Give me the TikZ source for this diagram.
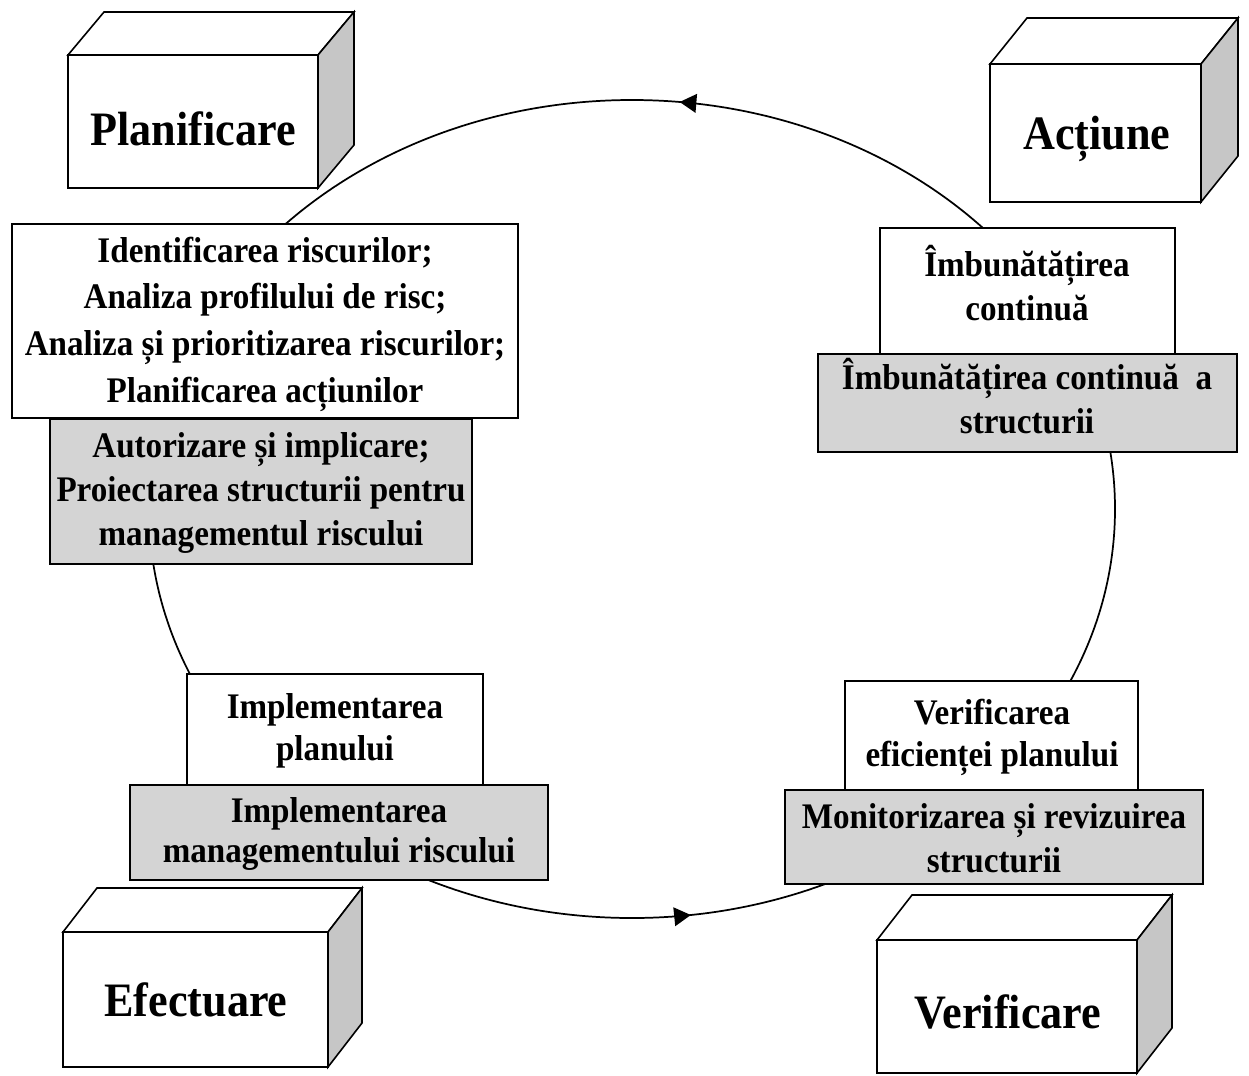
\documentclass[tikz,border=0pt]{standalone}
\usepackage{fontspec}
\setmainfont{Liberation Serif}[FakeStretch=0.92]
\usetikzlibrary{arrows.meta,decorations.markings}

\tikzset{
  whitebox/.style={draw=black, fill=white, line width=1.4pt},
  graybox/.style={draw=black, fill={rgb,255:red,212;green,212;blue,212}, line width=1.8pt},
  topface/.style={draw=black, fill=white, line width=1.2pt},
  sideface/.style={draw=black, fill={rgb,255:red,198;green,198;blue,198}, line width=1.2pt},
  titletext/.style={font=\fontsize{36}{40}\selectfont\bfseries, inner sep=0pt},
  listtext/.style={font=\fontsize{27}{33}\selectfont\bfseries, align=center, inner sep=0pt},
  cycletip/.style={decoration={markings,
      mark=at position 0.229 with {\arrowreversed{Triangle[length=12.5pt,width=14pt]}},
      mark=at position 0.767 with {\arrowreversed{Triangle[length=12.5pt,width=14pt]}}},
    postaction={decorate}},
}

\begin{document}
\begin{tikzpicture}[x=0.75pt,y=0.75pt,yscale=-1,xscale=1]
\useasboundingbox (0,0) rectangle (1249,1075);

%Cycle
\draw [line width=1.3pt, cycletip] (632,509) ellipse [x radius=483, y radius=409];

%Planificare: text boxes
\draw [whitebox] (12,224) rectangle (518,418);
\draw [graybox] (50,419) rectangle (472,564);
\node [listtext, font=\fontsize{27}{35}\selectfont\bfseries] (planList) at (265,324) {Identificarea riscurilor;\\Analiza profilului de risc;\\Analiza și prioritizarea riscurilor;\\Planificarea acțiunilor};
\node [listtext] (planStruct) at (261,493) {Autorizare și implicare;\\Proiectarea structurii pentru\\managementul riscului};

%Actiune: text boxes
\draw [whitebox] (880,228) rectangle (1175,354);
\draw [graybox] (818,354) rectangle (1237,452);
\node [listtext] (actList) at (1027,283) {Îmbunătățirea\\continuă};
\node [listtext] (actStruct) at (1027,396) {Îmbunătățirea continuă~ a\\structurii};

%Efectuare: text boxes
\draw [whitebox] (187,674) rectangle (483,785);
\draw [graybox] (130,785) rectangle (548,880);
\node [listtext, font=\fontsize{27}{31.5}\selectfont\bfseries] (efList) at (335,731) {Implementarea\\planului};
\node [listtext, font=\fontsize{27}{30.5}\selectfont\bfseries] (efStruct) at (339,834) {Implementarea\\managementului riscului};

%Verificare: text boxes
\draw [whitebox] (845,681) rectangle (1138,790);
\draw [graybox] (785,790) rectangle (1203,884);
\node [listtext, font=\fontsize{27}{31.5}\selectfont\bfseries] (verList) at (992,737) {Verificarea\\eficienței planului};
\node [listtext] (verStruct) at (994,838) {Monitorizarea și revizuirea\\structurii};

%Box: Planificare
\draw [topface] (68,55) -- (104,12) -- (354,12) -- (318,55) -- cycle;
\draw [sideface] (318,55) -- (354,12) -- (354,145) -- (318,188) -- cycle;
\draw [whitebox] (68,55) rectangle (318,188);
\node [titletext] (planTitle) at (193,129) {Planificare};

%Box: Actiune
\draw [topface] (990,64) -- (1027,18) -- (1238,18) -- (1201,64) -- cycle;
\draw [sideface] (1201,64) -- (1238,18) -- (1238,156) -- (1201,202) -- cycle;
\draw [whitebox] (990,64) rectangle (1201,202);
\node [titletext] (actTitle) at (1097,139) {Acțiune};

%Box: Efectuare
\draw [topface] (63,932) -- (97,888) -- (362,888) -- (328,932) -- cycle;
\draw [sideface] (328,932) -- (362,888) -- (362,1023) -- (328,1067) -- cycle;
\draw [whitebox] (63,932) rectangle (328,1067);
\node [titletext] (efTitle) at (196,1000) {Efectuare};

%Box: Verificare
\draw [topface] (877,940) -- (912,895) -- (1172,895) -- (1137,940) -- cycle;
\draw [sideface] (1137,940) -- (1172,895) -- (1172,1028) -- (1137,1073) -- cycle;
\draw [whitebox] (877,940) rectangle (1137,1073);
\node [titletext] (verTitle) at (1008,1012) {Verificare};

\end{tikzpicture}
\end{document}
